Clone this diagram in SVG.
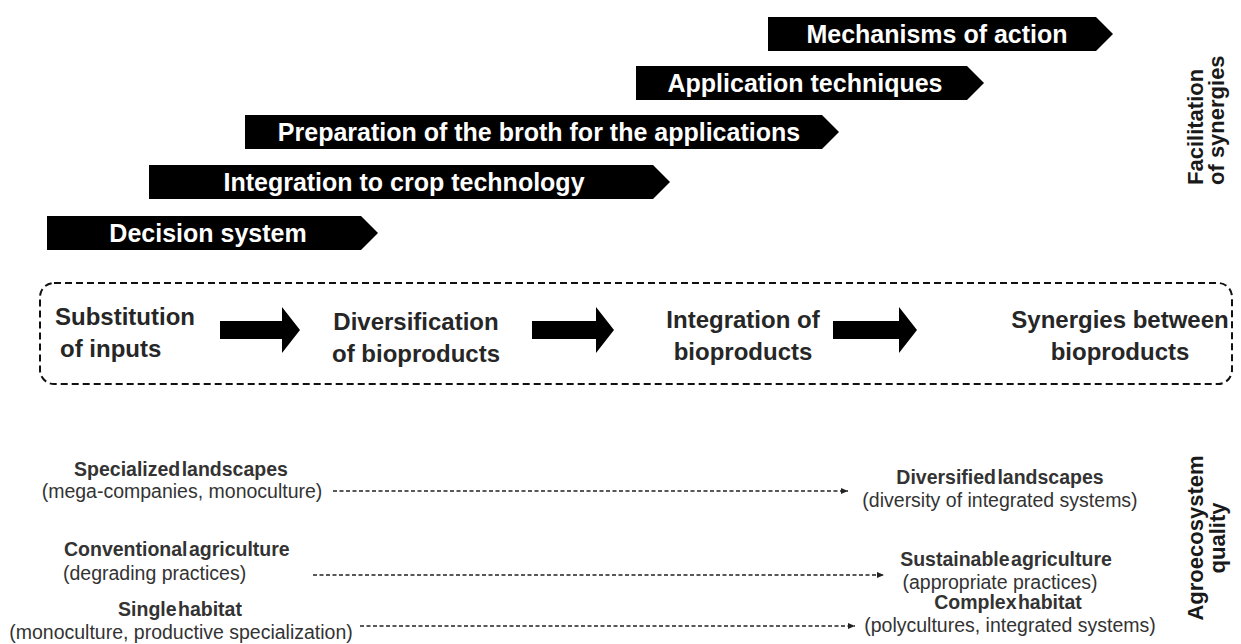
<svg xmlns="http://www.w3.org/2000/svg" width="1241" height="644" viewBox="0 0 1241 644">
  <style>
    .banner { fill: #000; }
    .btext { font-family: "Liberation Sans", Arial, sans-serif; font-weight: bold; font-size: 25px; fill: #fff; text-anchor: middle; }
    .stage { font-family: "Liberation Sans", Arial, sans-serif; font-weight: bold; font-size: 24px; fill: #262626; }
    .mid { text-anchor: middle; }
    .side { font-family: "Liberation Sans", Arial, sans-serif; font-weight: bold; font-size: 22px; fill: #1a1a1a; }
    .head { font-family: "Liberation Sans", Arial, sans-serif; font-weight: bold; font-size: 19.5px; fill: #333; word-spacing: -4px; }
    .sub { font-family: "Liberation Sans", Arial, sans-serif; font-size: 19.5px; fill: #333; }
    .flow { fill: #000; }
    .dash { stroke: #222; stroke-width: 1.6; stroke-dasharray: 4 2.5; fill: none; }
  </style>
  <defs>
    <marker id="tip" markerWidth="8" markerHeight="8" refX="7" refY="4" orient="auto" markerUnits="userSpaceOnUse">
      <path d="M0,1 L7,4 L0,7 Z" fill="#222"/>
    </marker>
  </defs>
  <rect width="1241" height="644" fill="#fff"/>

  <!-- stepped tool banners -->
  <g id="banner-mechanisms">
    <polygon class="banner" points="768,17 1096,17 1113,34 1096,51 768,51"/>
    <text class="btext" x="937" y="43">Mechanisms of action</text>
  </g>
  <g id="banner-application">
    <polygon class="banner" points="636,66 967,66 984,83 967,100 636,100"/>
    <text class="btext" x="805" y="92">Application techniques</text>
  </g>
  <g id="banner-preparation">
    <polygon class="banner" points="245,115 822,115 839,132 822,149 245,149"/>
    <text class="btext" x="539" y="141">Preparation of the broth for the applications</text>
  </g>
  <g id="banner-integration">
    <polygon class="banner" points="149,165 653,165 670,182 653,199 149,199"/>
    <text class="btext" x="404" y="191">Integration to crop technology</text>
  </g>
  <g id="banner-decision">
    <polygon class="banner" points="47,216 361,216 378,233 361,250 47,250"/>
    <text class="btext" x="208" y="242">Decision system</text>
  </g>

  <g id="label-facilitation">
    <text class="side" transform="translate(1203,185) rotate(-90)">Facilitation</text>
    <text class="side" transform="translate(1224,185) rotate(-90)">of synergies</text>
  </g>

  <!-- bioproduct progression -->
  <g id="stage-frame">
    <rect x="40" y="283" width="1192" height="101" rx="14" ry="14" fill="none" stroke="#111" stroke-width="2" stroke-dasharray="7 4"/>
  </g>
  <g id="stage-substitution">
    <text class="stage" x="55" y="325">Substitution</text>
    <text class="stage" x="60" y="357">of inputs</text>
  </g>
  <g id="stage-diversification">
    <text class="stage mid" x="416" y="330">Diversification</text>
    <text class="stage mid" x="416" y="362">of bioproducts</text>
  </g>
  <g id="stage-integration">
    <text class="stage mid" x="743" y="328">Integration of</text>
    <text class="stage mid" x="743" y="360">bioproducts</text>
  </g>
  <g id="stage-synergies">
    <text class="stage mid" x="1120" y="328">Synergies between</text>
    <text class="stage mid" x="1120" y="360">bioproducts</text>
  </g>

  <!-- agroecosystem transitions -->
  <g id="from-specialized">
    <text class="head" x="181" y="476" text-anchor="middle">Specialized landscapes</text>
    <text class="sub" x="182" y="498" text-anchor="middle">(mega-companies, monoculture)</text>
  </g>
  <g id="to-diversified">
    <text class="head" x="1000" y="484" text-anchor="middle">Diversified landscapes</text>
    <text class="sub" x="1000" y="507" text-anchor="middle">(diversity of integrated systems)</text>
  </g>
  <g id="from-conventional">
    <text class="head" x="64" y="556">Conventional agriculture</text>
    <text class="sub" x="63" y="580">(degrading practices)</text>
  </g>
  <g id="to-sustainable">
    <text class="head" x="1006" y="566" text-anchor="middle">Sustainable agriculture</text>
    <text class="sub" x="1000" y="589" text-anchor="middle">(appropriate practices)</text>
  </g>
  <g id="from-single">
    <text class="head" x="180" y="616" text-anchor="middle">Single habitat</text>
    <text class="sub" x="181" y="639" text-anchor="middle">(monoculture, productive specialization)</text>
  </g>
  <g id="to-complex">
    <text class="head" x="1008" y="609" text-anchor="middle">Complex habitat</text>
    <text class="sub" x="1010" y="632" text-anchor="middle">(polycultures, integrated systems)</text>
  </g>

  <g id="label-agroecosystem">
    <text class="side" text-anchor="middle" transform="translate(1203,538) rotate(-90)">Agroecosystem</text>
    <text class="side" text-anchor="middle" transform="translate(1225,538) rotate(-90)">quality</text>
  </g>

  <g id="connectors">
    <polygon class="flow" points="220,321 282,321 282,307 300,330 282,353 282,339 220,339"/>
    <polygon class="flow" points="532,321 596,321 596,307 614,330 596,353 596,339 532,339"/>
    <polygon class="flow" points="833,321 899,321 899,307 917,330 899,353 899,339 833,339"/>
    <line class="dash" x1="333" y1="491" x2="848" y2="491" marker-end="url(#tip)"/>
    <line class="dash" x1="313" y1="575" x2="884" y2="575" marker-end="url(#tip)"/>
    <line class="dash" x1="360" y1="626" x2="855" y2="626" marker-end="url(#tip)"/>
  </g>
</svg>
